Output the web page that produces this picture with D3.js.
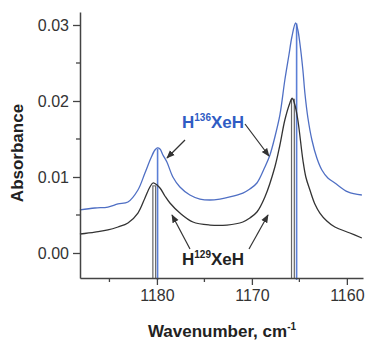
<!DOCTYPE html>
<html><head><meta charset="utf-8">
<script src="https://cdn.jsdelivr.net/npm/d3@7/dist/d3.min.js"></script>
<style>body{margin:0;background:#fff}svg{display:block}text{font-family:"Liberation Sans",Arial,sans-serif}</style>
</head><body>
<script>
// Data (wavenumber cm^-1, absorbance)
const wn136 = [1188.11,1186.53,1185.16,1184.1,1183.05,1182.0,1181.26,1180.63,1180.21,1179.95,1179.68,1179.37,1178.95,1178.32,1177.58,1176.53,1175.47,1174.42,1173.37,1172.32,1170.95,1170.21,1169.47,1168.63,1168.1,1167.58,1167.05,1166.53,1166.1,1165.79,1165.4,1165.16,1164.95,1164.63,1164.42,1164.1,1163.68,1163.16,1162.63,1162.0,1161.26,1159.89,1158.42];
const abs136 = [0.00566,0.00592,0.00605,0.00645,0.00671,0.00829,0.01053,0.0125,0.01355,0.01382,0.01368,0.0129,0.01197,0.0100,0.00868,0.00763,0.0071,0.00697,0.0071,0.00737,0.00789,0.00842,0.00921,0.01132,0.0129,0.01526,0.01816,0.02276,0.02605,0.02842,0.03026,0.02934,0.02763,0.02408,0.02105,0.01776,0.01487,0.0125,0.01092,0.00987,0.00921,0.00803,0.00763];
const wn129 = [1188.11,1186.53,1185.16,1184.1,1183.05,1182.0,1181.26,1180.74,1180.42,1180.21,1179.68,1179.16,1178.63,1177.58,1176.21,1174.42,1172.63,1170.95,1170.21,1169.47,1168.63,1167.58,1167.05,1166.53,1166.0,1165.76,1165.47,1165.16,1164.63,1164.32,1163.89,1163.37,1162.84,1162.11,1161.26,1159.68,1158.42];
const abs129 = [0.0025,0.00276,0.00303,0.00342,0.00395,0.00526,0.00724,0.00868,0.00921,0.00914,0.00855,0.0075,0.00658,0.00526,0.00408,0.00368,0.00368,0.00408,0.00461,0.00539,0.00737,0.01132,0.01421,0.0175,0.01974,0.02039,0.01947,0.0175,0.01224,0.01,0.00829,0.00645,0.00526,0.00421,0.00342,0.00263,0.00197];
const sticks129 = [1180.28, 1165.68];
const stickTops129 = [0.0089, 0.0203];
const sticks136 = [1179.93, 1165.29];
const stickTops136 = [0.0137, 0.0302];
const xMajorTicks = [1180, 1170, 1160];
const xMinorTicks = [1185, 1175, 1165];
const yMajorTicks = [0.00, 0.01, 0.02, 0.03];
const yMinorTicks = [0.005, 0.015, 0.025];

const W = 367, H = 342;
const svg = d3.select("body").append("svg").attr("width", W).attr("height", H);
const x = d3.scaleLinear().domain([1188.1, 1158.3]).range([80, 363]);
const y = d3.scaleLinear().domain([-0.00329, 0.03171]).range([278, 12]);
const axisCol = "#444", textCol = "#333";
const blue = "#4f6fc4", black = "#333";

// sticks
sticks129.forEach((w, i) => {
  svg.append("line").attr("x1", x(w)).attr("x2", x(w)).attr("y1", 278).attr("y2", y(stickTops129[i]))
    .attr("stroke", "#666").attr("stroke-width", 4);
  svg.append("line").attr("x1", x(w)).attr("x2", x(w)).attr("y1", 278).attr("y2", y(stickTops129[i]) + 1)
    .attr("stroke", "#fff").attr("stroke-width", 1.6);
});
sticks136.forEach((w, i) => {
  svg.append("line").attr("x1", x(w)).attr("x2", x(w)).attr("y1", 280).attr("y2", y(stickTops136[i]))
    .attr("stroke", "#5b7fd6").attr("stroke-width", 1.6);
});

const line = d3.line().x(d => x(d[0])).y(d => y(d[1])).curve(d3.curveCatmullRom.alpha(0.5));
svg.append("path").datum(wn129.map((w, i) => [w, abs129[i]])).attr("d", line)
  .attr("fill", "none").attr("stroke", black).attr("stroke-width", 1.3);
svg.append("path").datum(wn136.map((w, i) => [w, abs136[i]])).attr("d", line)
  .attr("fill", "none").attr("stroke", blue).attr("stroke-width", 1.3);

// axes
const gx = svg.append("g").attr("transform", "translate(0,278)");
gx.call(d3.axisBottom(x).tickValues(xMajorTicks).tickSize(7).tickPadding(5).tickFormat(d3.format("d")).tickSizeOuter(0));
gx.selectAll(".tick").data(xMinorTicks, d => d); 
xMinorTicks.forEach(t => gx.append("line").attr("x1", x(t)).attr("x2", x(t)).attr("y1", 0).attr("y2", 4).attr("stroke", axisCol).attr("stroke-width", 1.3));
const gy = svg.append("g").attr("transform", "translate(80,0)");
gy.call(d3.axisLeft(y).tickValues(yMajorTicks).tickSize(7).tickPadding(4).tickFormat(d3.format(".2f")).tickSizeOuter(0));
yMinorTicks.forEach(t => gy.append("line").attr("y1", y(t)).attr("y2", y(t)).attr("x1", 0).attr("x2", -4).attr("stroke", axisCol).attr("stroke-width", 1.3));
[gx, gy].forEach(g => {
  g.selectAll("path.domain").attr("stroke", axisCol).attr("stroke-width", 1.5);
  g.selectAll(".tick line").attr("stroke", axisCol).attr("stroke-width", 1.3);
  g.selectAll(".tick text").attr("fill", textCol).style("font-size", "16px").style("font-family", "'Liberation Sans',Arial,sans-serif");
});

// axis titles
svg.append("text").attr("transform", "translate(23,153) rotate(-90)").attr("text-anchor", "middle")
  .attr("fill", "#222").style("font-size", "17px").style("font-weight", "bold").text("Absorbance");
const xt = svg.append("text").attr("x", 222).attr("y", 337).attr("text-anchor", "middle")
  .attr("fill", "#222").style("font-size", "17px").style("font-weight", "bold");
xt.append("tspan").text("Wavenumber, cm");
xt.append("tspan").attr("dy", -7).style("font-size", "10px").text("-1");

// labels
function label(xp, yp, iso, col) {
  const t = svg.append("text").attr("x", xp).attr("y", yp).attr("fill", col)
    .style("font-size", "17px").style("font-weight", "bold");
  t.append("tspan").text("H");
  t.append("tspan").attr("dy", -7).style("font-size", "10px").text(iso);
  t.append("tspan").attr("dy", 7).text("XeH");
}
label(182, 128, "136", "#2f5cc4");
label(182, 265, "129", "#222");

// arrows
svg.append("defs").append("marker").attr("id", "ah").attr("viewBox", "0 0 10 10").attr("refX", 9).attr("refY", 5)
  .attr("markerWidth", 7).attr("markerHeight", 7).attr("orient", "auto")
  .append("path").attr("d", "M0,1 L10,5 L0,9 Z").attr("fill", "#333");
const arrows = [[185,140,167,158],[245,124,269,156],[190,249,172,215],[249,249,268,215]];
arrows.forEach(a => svg.append("line").attr("x1", a[0]).attr("y1", a[1]).attr("x2", a[2]).attr("y2", a[3])
  .attr("stroke", "#333").attr("stroke-width", 1.2).attr("marker-end", "url(#ah)"));
</script>
</body></html>
